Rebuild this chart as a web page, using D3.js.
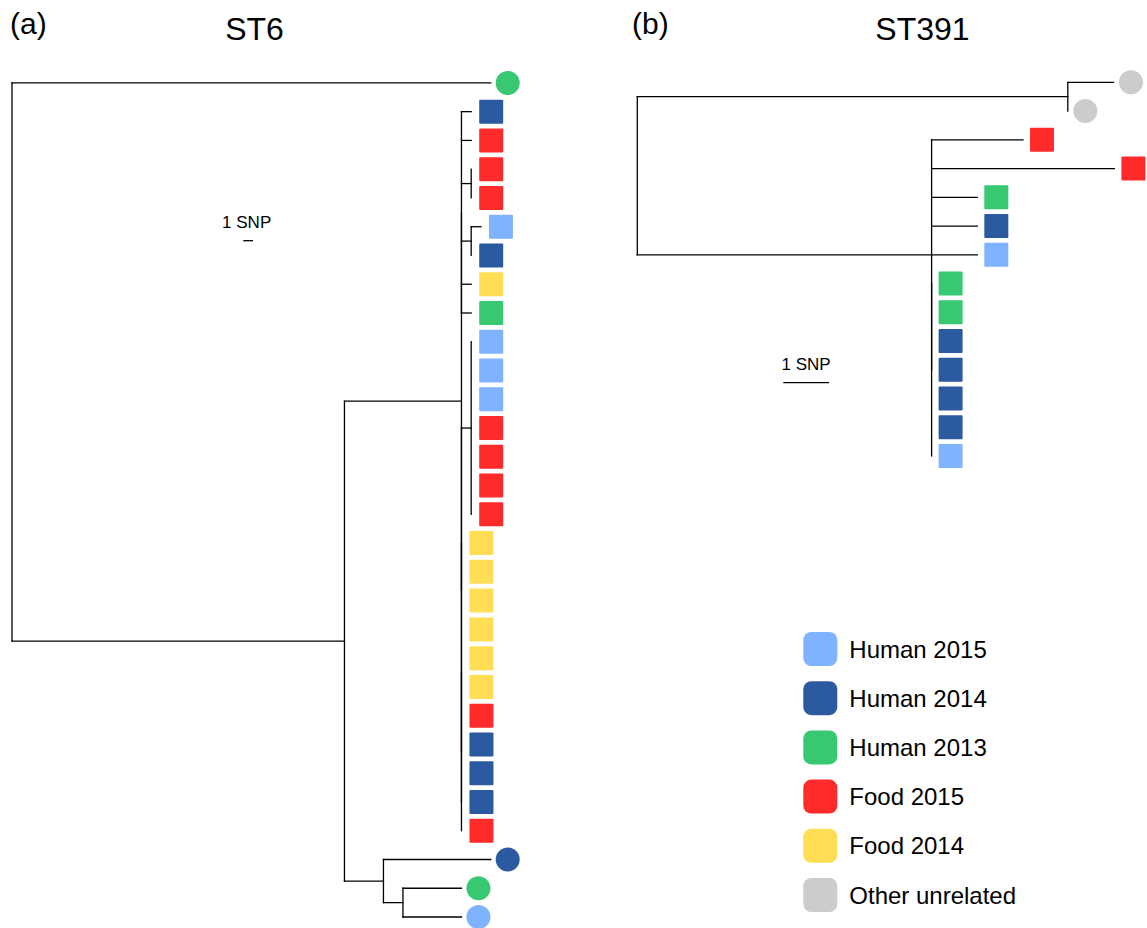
<!DOCTYPE html>
<html>
<head>
<meta charset="utf-8">
<script src="https://cdn.jsdelivr.net/npm/d3@7"></script>
<style>
  html, body { margin: 0; padding: 0; background: #fff; }
  svg { display: block; font-family: "Liberation Sans", Arial, Helvetica, sans-serif; }
</style>
</head>
<body>
<svg id="chart" width="1147" height="928"></svg>
<script>
// ---------------- DATA ----------------
const groups = ["Human 2015", "Human 2014", "Human 2013", "Food 2015", "Food 2014", "Other unrelated"];
const groupColors = ["#80b3ff", "#2c5aa0", "#37c871", "#ff2a2a", "#ffdd55", "#cccccc"];

// tree rows: [id, parent, branch length in SNPs, group (leaf only), marker]
const st6Tree = [
  ["root", null, 0, null, null],
  ["a0", "root", 49.1, "Human 2013", "circle"],
  ["N1", "root", 34.1, null, null],
  ["C", "N1", 12, null, null],
  ["U", "C", 0, null, null],
  ["a1", "U", 1, "Human 2014", "square"],
  ["a2", "U", 1, "Food 2015", "square"],
  ["P", "U", 1, null, null],
  ["a3", "P", 0, "Food 2015", "square"],
  ["a4", "P", 0, "Food 2015", "square"],
  ["S2", "U", 1, null, null],
  ["a5", "S2", 1, "Human 2015", "square"],
  ["a6", "S2", 0, "Human 2014", "square"],
  ["a7", "U", 1, "Food 2014", "square"],
  ["a8", "U", 1, "Human 2013", "square"],
  ["L", "C", 0, null, null],
  ["S3", "L", 1, null, null],
  ["a9", "S3", 0, "Human 2015", "square"],
  ["a10", "S3", 0, "Human 2015", "square"],
  ["a11", "S3", 0, "Human 2015", "square"],
  ["a12", "S3", 0, "Food 2015", "square"],
  ["a13", "S3", 0, "Food 2015", "square"],
  ["a14", "S3", 0, "Food 2015", "square"],
  ["a15", "S3", 0, "Food 2015", "square"],
  ["M", "L", 0, null, null],
  ["Q", "M", 0, null, null],
  ["a16", "Q", 0, "Food 2014", "square"],
  ["a17", "Q", 0, "Food 2014", "square"],
  ["a18", "Q", 0, "Food 2014", "square"],
  ["a19", "Q", 0, "Food 2014", "square"],
  ["a20", "Q", 0, "Food 2014", "square"],
  ["a21", "Q", 0, "Food 2014", "square"],
  ["a22", "Q", 0, "Food 2015", "square"],
  ["a23", "Q", 0, "Human 2014", "square"],
  ["a24", "Q", 0, "Human 2014", "square"],
  ["a25", "Q", 0, "Human 2014", "square"],
  ["a26", "M", 0, "Food 2015", "square"],
  ["N2", "N1", 4, null, null],
  ["a27", "N2", 11, "Human 2014", "circle"],
  ["N3", "N2", 2, null, null],
  ["a28", "N3", 6, "Human 2013", "circle"],
  ["a29", "N3", 6, "Human 2015", "circle"]
];

const st391Tree = [
  ["root", null, 0, null, null],
  ["G", "root", 9.42, null, null],
  ["b0", "G", 1, "Other unrelated", "circle"],
  ["b1", "G", 0, "Other unrelated", "circle"],
  ["C2", "root", 6.44, null, null],
  ["b2", "C2", 2, "Food 2015", "square"],
  ["b3", "C2", 4, "Food 2015", "square"],
  ["b4", "C2", 1, "Human 2013", "square"],
  ["b5", "C2", 1, "Human 2014", "square"],
  ["b6", "C2", 1, "Human 2015", "square"],
  ["S", "C2", 0, null, null],
  ["b7", "S", 0, "Human 2013", "square"],
  ["b8", "S", 0, "Human 2013", "square"],
  ["b9", "S", 0, "Human 2014", "square"],
  ["b10", "S", 0, "Human 2014", "square"],
  ["b11", "S", 0, "Human 2014", "square"],
  ["b12", "S", 0, "Human 2014", "square"],
  ["b13", "S", 0, "Human 2015", "square"]
];

const panelLabels = ["(a)", "(b)"];
const panelTitles = ["ST6", "ST391"];
const scaleBarLabel = "1 SNP";
const scaleBarSNPs = 1;

// ---------------- DRAW ----------------
const svg = d3.select("#chart");
const color = d3.scaleOrdinal().domain(groups).range(groupColors);
const FONT = "'Liberation Sans', Arial, Helvetica, sans-serif";

function buildTree(rows) {
  const root = d3.stratify()
    .id(d => d[0])
    .parentId(d => d[1])(rows);
  root.each(n => {
    n.len = n.data[2];
    n.dist = n.parent ? n.parent.dist + n.len : 0;
  });
  let k = 0;
  root.eachBefore(n => { if (!n.children) n.idx = k++; });
  root.eachAfter(n => {
    if (n.children) n.idx = (n.children[0].idx + n.children[n.children.length - 1].idx) / 2;
  });
  root.nLeaves = k;
  return root;
}

function drawTree(rows, opt) {
  const root = buildTree(rows);
  const maxDist = d3.max(root.leaves(), d => d.dist);
  const x = d3.scaleLinear().domain([0, maxDist]).range(opt.xRange);
  const y = d3.scaleLinear().domain([0, root.nLeaves - 1]).range(opt.yRange);
  const g = svg.append("g");

  const lines = g.append("g")
    .attr("fill", "none")
    .attr("stroke", "#000")
    .attr("stroke-width", 1.3)
    .attr("stroke-linecap", "square");

  root.descendants().filter(n => n.parent && n.len > 0).forEach(n => {
    lines.append("line")
      .attr("x1", x(n.parent.dist)).attr("x2", x(n.dist))
      .attr("y1", y(n.idx)).attr("y2", y(n.idx));
  });
  root.descendants().filter(n => n.children).forEach(n => {
    const ys = n.children.map(c => y(c.idx));
    lines.append("line")
      .attr("x1", x(n.dist)).attr("x2", x(n.dist))
      .attr("y1", d3.min(ys)).attr("y2", d3.max(ys));
  });

  const leaves = root.leaves();
  const sq = 24;
  g.append("g").selectAll("rect")
    .data(leaves.filter(d => d.data[4] === "square"))
    .join("rect")
    .attr("x", d => x(d.dist) + opt.sqOffset - sq / 2)
    .attr("y", d => y(d.idx) - sq / 2)
    .attr("width", sq).attr("height", sq)
    .attr("rx", 1)
    .attr("fill", d => color(d.data[3]));
  g.append("g").selectAll("circle")
    .data(leaves.filter(d => d.data[4] === "circle"))
    .join("circle")
    .attr("cx", d => x(d.dist) + opt.ciOffset)
    .attr("cy", d => y(d.idx))
    .attr("r", 12)
    .attr("fill", d => color(d.data[3]));

  const bw = x(scaleBarSNPs) - x(0);
  const sb = g.append("g");
  sb.append("line")
    .attr("x1", opt.barX).attr("x2", opt.barX + bw)
    .attr("y1", opt.barY).attr("y2", opt.barY)
    .attr("stroke", "#000").attr("stroke-width", 1.3);
  sb.append("text")
    .attr("x", opt.barX + bw / 2 + opt.barTextDx)
    .attr("y", opt.barY - 12.5)
    .attr("text-anchor", "middle")
    .attr("font-family", FONT)
    .attr("font-size", 17)
    .attr("fill", "#000")
    .text(scaleBarLabel);
}

drawTree(st6Tree, {
  xRange: [12, 490.7], yRange: [82.9, 917],
  sqOffset: 20, ciOffset: 17,
  barX: 243.3, barY: 240.7, barTextDx: -1.5
});
drawTree(st391Tree, {
  xRange: [637.3, 637.3 + 10.44 * 45.7], yRange: [82.3, 456],
  sqOffset: 19, ciOffset: 17.5,
  barX: 783.3, barY: 382.7, barTextDx: 0
});

const heads = svg.append("g").attr("font-family", FONT).attr("fill", "#000");
[[10, 34], [632, 34]].forEach((p, i) => {
  heads.append("text").attr("x", p[0]).attr("y", p[1])
    .attr("font-size", 30).text(panelLabels[i]);
});
[[254.5, 39.5], [922.5, 39.5]].forEach((p, i) => {
  heads.append("text").attr("x", p[0]).attr("y", p[1])
    .attr("text-anchor", "middle")
    .attr("font-size", 32).text(panelTitles[i]);
});

const legend = svg.append("g").attr("transform", "translate(803.3,649)");
const ly = d3.scalePoint().domain(groups).range([0, 49.2 * (groups.length - 1)]);
const item = legend.selectAll("g").data(groups).join("g")
  .attr("transform", d => `translate(0,${ly(d)})`);
item.append("rect")
  .attr("x", 0).attr("y", -17)
  .attr("width", 34).attr("height", 34)
  .attr("rx", 8)
  .attr("fill", d => color(d));
item.append("text")
  .attr("x", 46).attr("y", 8.5)
  .attr("font-family", FONT)
  .attr("font-size", 24)
  .attr("fill", "#000")
  .text(d => d);
</script>
</body>
</html>
